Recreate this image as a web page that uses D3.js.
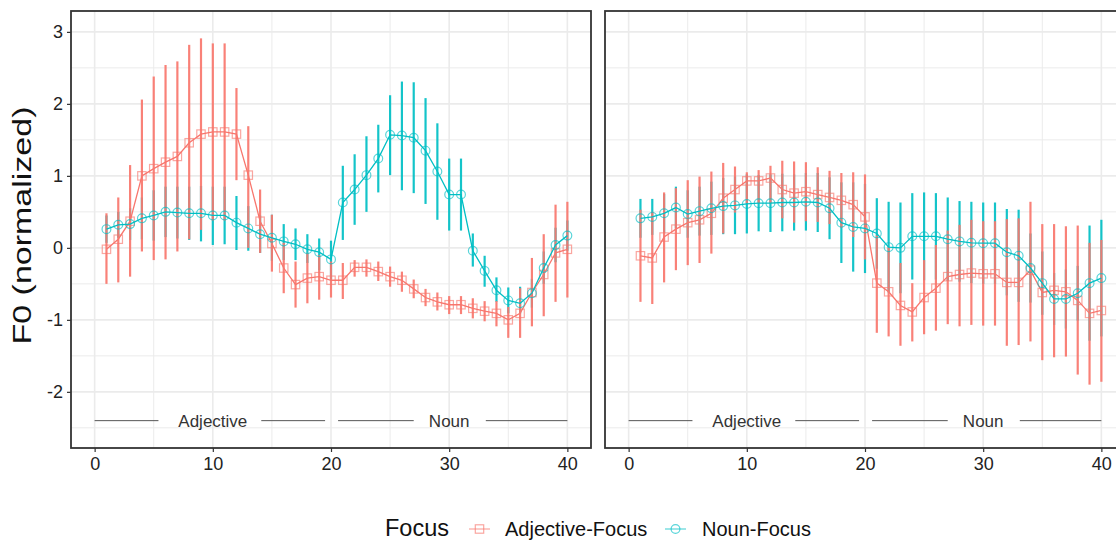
<!DOCTYPE html>
<html>
<head>
<meta charset="utf-8">
<script src="https://cdn.jsdelivr.net/npm/d3@7"></script>
<style>
  html, body { margin: 0; padding: 0; background: #fff; }
  svg { display: block; font-family: "Liberation Sans", Arial, Helvetica, sans-serif; }
</style>
</head>
<body>
<svg id="chart" width="1116" height="542"></svg>
<script>
// ---------------- DATA ----------------
const timePoints = [1,2,3,4,5,6,7,8,9,10,11,12,13,14,15,16,17,18,19,20,21,22,23,24,25,26,27,28,29,30,31,32,33,34,35,36,37,38,39,40];

const seriesNames = ["Adjective-Focus", "Noun-Focus"];
const seriesColors = ["#F8766D", "#00BFC4"];

// Left panel – Adjective-Focus
const leftAdjMean = [-0.02,0.12,0.37,1.00,1.10,1.19,1.27,1.46,1.58,1.61,1.61,1.58,1.01,0.37,0.06,-0.28,-0.51,-0.42,-0.40,-0.45,-0.45,-0.27,-0.27,-0.33,-0.40,-0.45,-0.57,-0.69,-0.75,-0.79,-0.79,-0.84,-0.88,-0.91,-1.00,-0.91,-0.62,-0.37,-0.07,-0.02];
const leftAdjHi   = [0.48,0.70,1.15,2.06,2.38,2.54,2.59,2.82,2.91,2.84,2.84,2.22,1.69,0.81,0.46,0.07,-0.19,-0.07,-0.10,-0.19,-0.21,-0.17,-0.16,-0.19,-0.26,-0.33,-0.44,-0.57,-0.62,-0.67,-0.67,-0.70,-0.74,-0.74,-0.82,-0.56,-0.14,0.19,0.60,0.64];
const leftAdjLo   = [-0.50,-0.48,-0.40,-0.05,-0.17,-0.16,-0.05,0.12,0.25,0.38,0.38,0.94,0.00,-0.07,-0.33,-0.63,-0.83,-0.77,-0.72,-0.69,-0.71,-0.40,-0.40,-0.46,-0.54,-0.61,-0.70,-0.81,-0.87,-0.92,-0.92,-0.98,-1.02,-1.09,-1.25,-1.25,-1.09,-0.95,-0.75,-0.69];

// Left panel – Noun-Focus
const leftNounMean = [0.26,0.32,0.33,0.41,0.45,0.50,0.49,0.48,0.48,0.45,0.45,0.35,0.27,0.19,0.14,0.09,0.05,-0.02,-0.06,-0.16,0.63,0.81,1.01,1.24,1.57,1.56,1.53,1.35,1.06,0.74,0.74,-0.04,-0.32,-0.59,-0.73,-0.77,-0.63,-0.28,0.04,0.17];
const leftNounHi   = [0.45,0.50,0.55,0.70,0.80,0.85,0.85,0.85,0.86,0.85,0.85,0.72,0.58,0.45,0.46,0.33,0.27,0.19,0.13,0.10,1.14,1.30,1.55,1.71,2.12,2.31,2.30,2.08,1.73,1.24,1.24,0.20,-0.11,-0.41,-0.55,-0.54,-0.43,-0.05,0.28,0.38];
const leftNounLo   = [0.07,0.14,0.11,0.12,0.10,0.15,0.13,0.11,0.09,0.04,0.05,-0.03,-0.04,-0.07,-0.18,-0.17,-0.17,-0.21,-0.31,-0.44,0.11,0.32,0.50,0.77,1.01,0.80,0.76,0.61,0.39,0.24,0.24,-0.26,-0.54,-0.75,-0.91,-0.91,-0.83,-0.50,-0.20,-0.04];

// Right panel – Adjective-Focus
const rightAdjMean = [-0.11,-0.14,0.15,0.26,0.35,0.39,0.48,0.69,0.81,0.93,0.93,0.97,0.81,0.76,0.78,0.74,0.70,0.66,0.60,0.43,-0.49,-0.61,-0.80,-0.89,-0.69,-0.56,-0.40,-0.37,-0.35,-0.36,-0.36,-0.48,-0.48,-0.31,-0.62,-0.59,-0.61,-0.73,-0.91,-0.87];
const rightAdjHi   = [0.53,0.50,0.77,0.83,0.94,0.99,1.06,1.18,1.13,1.05,1.08,1.14,1.21,1.20,1.19,1.12,1.07,1.04,1.05,1.02,0.17,0.01,-0.21,-0.49,-0.17,0.04,0.24,0.32,0.39,0.37,0.37,0.40,0.41,0.64,0.33,0.33,0.30,0.31,0.07,0.11];
const rightAdjLo   = [-0.75,-0.78,-0.48,-0.31,-0.24,-0.21,-0.08,0.20,0.49,0.62,0.62,0.62,0.41,0.35,0.37,0.36,0.33,0.28,0.15,-0.16,-1.18,-1.23,-1.36,-1.30,-1.20,-1.15,-1.06,-1.09,-1.07,-1.08,-1.08,-1.36,-1.35,-1.30,-1.56,-1.52,-1.51,-1.76,-1.90,-1.86];

// Right panel – Noun-Focus
const rightNounMean = [0.41,0.43,0.48,0.56,0.47,0.51,0.55,0.58,0.59,0.61,0.62,0.62,0.63,0.63,0.64,0.63,0.55,0.35,0.29,0.27,0.20,0.01,0.00,0.16,0.16,0.16,0.12,0.09,0.07,0.065,0.065,-0.06,-0.11,-0.28,-0.49,-0.71,-0.71,-0.63,-0.49,-0.42];
const rightNounHi   = [0.68,0.68,0.75,0.85,0.80,0.85,0.92,0.97,0.99,1.02,1.01,1.02,1.03,1.02,1.04,1.04,0.98,0.91,0.91,0.89,0.69,0.64,0.63,0.76,0.77,0.76,0.70,0.65,0.64,0.63,0.63,0.54,0.53,0.20,-0.05,-0.35,-0.30,-0.25,0.31,0.39];
const rightNounLo   = [0.14,0.18,0.21,0.27,0.14,0.17,0.18,0.19,0.19,0.20,0.23,0.22,0.23,0.24,0.24,0.22,0.12,-0.21,-0.33,-0.35,-0.29,-0.62,-0.63,-0.44,-0.45,-0.44,-0.46,-0.47,-0.49,-0.50,-0.50,-0.66,-0.75,-0.76,-0.93,-1.07,-1.12,-1.01,-1.29,-1.23];

// Axis ticks
const xTickValues = [0, 10, 20, 30, 40];
const xMinorValues = [5, 15, 25, 35];
const yTickValues = [-2, -1, 0, 1, 2, 3];
const yMinorValues = [-2.5, -1.5, -0.5, 0.5, 1.5, 2.5];

// Region annotations (word labels along the time axis)
const regionLabels = ["Adjective", "Noun"];
const regionLabelX = [10, 30];
const regionSegments = [[0, 5.4], [14.1, 19.5], [20.6, 27.0], [33.1, 40]];
const regionY = -2.4;

const yTitle = "F0 (normalized)";
const legendTitle = "Focus";

// ---------------- LAYOUT ----------------
const svg = d3.select("#chart");
const panelTop = 11, panelBottom = 448, panelWidth = 520;
const panelLefts = [71, 605];
const fontFam = "'Liberation Sans', Arial, sans-serif";

const y = d3.scaleLinear().domain([-2.78, 3.29]).range([panelBottom, panelTop]);
const numFmt = d => String(d); // plain hyphen-minus like the reference

const panels = [
  { series: [
      { mean: leftAdjMean, lo: leftAdjLo, hi: leftAdjHi },
      { mean: leftNounMean, lo: leftNounLo, hi: leftNounHi } ] },
  { series: [
      { mean: rightAdjMean, lo: rightAdjLo, hi: rightAdjHi },
      { mean: rightNounMean, lo: rightNounLo, hi: rightNounHi } ] }
];

function drawMarker(g, idx, cx, cy, color) {
  if (idx === 0) {
    g.append("rect").attr("x", cx - 4.2).attr("y", cy - 4.2).attr("width", 8.4).attr("height", 8.4)
      .attr("fill", "none").attr("stroke", color).attr("stroke-width", 1.2).attr("stroke-opacity", 0.65);
  } else {
    g.append("circle").attr("cx", cx).attr("cy", cy).attr("r", 4.4)
      .attr("fill", "none").attr("stroke", color).attr("stroke-width", 1.2).attr("stroke-opacity", 0.65);
  }
}

panels.forEach((p, pi) => {
  const left = panelLefts[pi];
  const x = d3.scaleLinear().domain([-2, 42]).range([left, left + panelWidth]);
  const g = svg.append("g");

  // background grid
  const grid = g.append("g");
  yMinorValues.forEach(v => grid.append("line").attr("x1", left).attr("x2", left + panelWidth)
    .attr("y1", y(v)).attr("y2", y(v)).attr("stroke", "#EBEBEB").attr("stroke-width", 1));
  xMinorValues.forEach(v => grid.append("line").attr("x1", x(v)).attr("x2", x(v))
    .attr("y1", panelTop).attr("y2", panelBottom).attr("stroke", "#EBEBEB").attr("stroke-width", 1));
  yTickValues.forEach(v => grid.append("line").attr("x1", left).attr("x2", left + panelWidth)
    .attr("y1", y(v)).attr("y2", y(v)).attr("stroke", "#EBEBEB").attr("stroke-width", 1.6));
  xTickValues.forEach(v => grid.append("line").attr("x1", x(v)).attr("x2", x(v))
    .attr("y1", panelTop).attr("y2", panelBottom).attr("stroke", "#EBEBEB").attr("stroke-width", 1.6));

  // region annotations
  const ann = g.append("g");
  regionSegments.forEach(s => ann.append("line").attr("x1", x(s[0])).attr("x2", x(s[1]))
    .attr("y1", y(regionY)).attr("y2", y(regionY)).attr("stroke", "#555").attr("stroke-width", 1));
  regionLabels.forEach((t, i) => ann.append("text").attr("x", x(regionLabelX[i])).attr("y", y(regionY))
    .attr("dy", "0.36em").attr("text-anchor", "middle").attr("font-size", 17).attr("fill", "#333").text(t));

  // error bars: Noun-Focus first, Adjective-Focus on top
  [1, 0].forEach(si => {
    const s = p.series[si];
    g.append("g").selectAll("line").data(timePoints).join("line")
      .attr("x1", d => x(d)).attr("x2", d => x(d))
      .attr("y1", (d, i) => y(s.lo[i])).attr("y2", (d, i) => y(s.hi[i]))
      .attr("stroke", seriesColors[si]).attr("stroke-width", 2.2).attr("stroke-opacity", 0.92);
  });

  // lines and markers
  [0, 1].forEach(si => {
    const s = p.series[si];
    const line = d3.line().x((d, i) => x(timePoints[i])).y(d => y(d));
    g.append("path").datum(s.mean).attr("d", line).attr("fill", "none")
      .attr("stroke", seriesColors[si]).attr("stroke-width", 1.3);
    const mg = g.append("g");
    s.mean.forEach((v, i) => drawMarker(mg, si, x(timePoints[i]), y(v), seriesColors[si]));
  });

  // panel border
  g.append("rect").attr("x", left).attr("y", panelTop).attr("width", panelWidth)
    .attr("height", panelBottom - panelTop).attr("fill", "none").attr("stroke", "#333").attr("stroke-width", 1.8);

  // x axis
  const xAxis = d3.axisBottom(x).tickValues(xTickValues).tickSize(4).tickPadding(5).tickFormat(numFmt);
  const xa = g.append("g").attr("transform", `translate(0,${panelBottom})`).call(xAxis);
  xa.select(".domain").remove();
  xa.selectAll(".tick line").attr("stroke", "#333").attr("stroke-width", 1.2);
  xa.selectAll(".tick text").attr("font-size", 18).attr("fill", "#222").attr("font-family", fontFam);

  if (pi === 0) {
    const yAxis = d3.axisLeft(y).tickValues(yTickValues).tickSize(4).tickPadding(4).tickFormat(numFmt);
    const ya = g.append("g").attr("transform", `translate(${left},0)`).call(yAxis);
    ya.select(".domain").remove();
    ya.selectAll(".tick line").attr("stroke", "#333").attr("stroke-width", 1.2);
    ya.selectAll(".tick text").attr("font-size", 18).attr("fill", "#222").attr("font-family", fontFam);
  }
});

// y title
svg.append("text").attr("transform", `translate(31,${(panelTop + panelBottom) / 2 - 4}) rotate(-90)`)
  .attr("text-anchor", "middle").attr("font-size", 25).attr("fill", "#111")
  .attr("textLength", 238).attr("lengthAdjust", "spacingAndGlyphs").text(yTitle);

// legend
const lg = svg.append("g");
const legendBase = 536;
lg.append("text").attr("x", 385).attr("y", legendBase).attr("font-size", 23.5).attr("fill", "#111").text(legendTitle);
const keyX = [469, 665], labelX = [505, 702];
seriesNames.forEach((name, i) => {
  lg.append("line").attr("x1", keyX[i]).attr("x2", keyX[i] + 21).attr("y1", legendBase - 7).attr("y2", legendBase - 7)
    .attr("stroke", seriesColors[i]).attr("stroke-width", 1.3).attr("stroke-opacity", 0.6);
  drawMarker(lg, i, keyX[i] + 10.5, legendBase - 7, seriesColors[i]);
  lg.append("text").attr("x", labelX[i]).attr("y", legendBase).attr("font-size", 20).attr("fill", "#111").text(name);
});
</script>
</body>
</html>
